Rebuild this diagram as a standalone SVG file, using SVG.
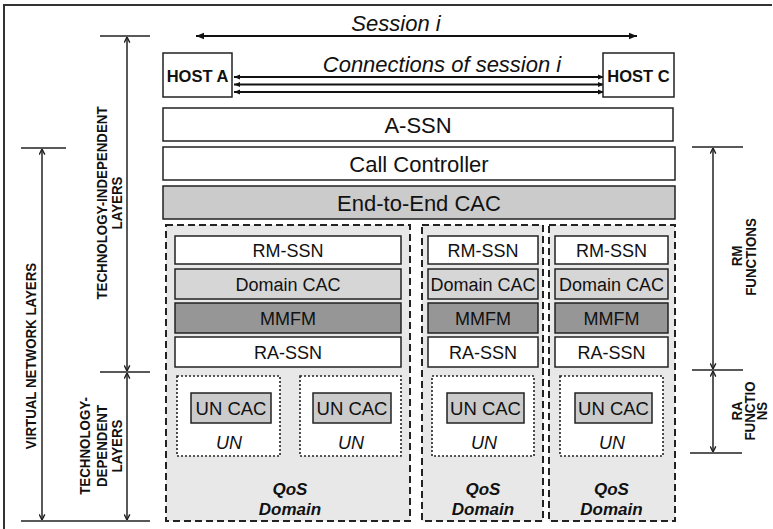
<svg xmlns="http://www.w3.org/2000/svg" width="773" height="529" viewBox="0 0 773 529">
<defs>
<marker id="fa" viewBox="0 0 10 10" refX="10" refY="5" markerWidth="9" markerHeight="8" orient="auto-start-reverse" markerUnits="userSpaceOnUse"><path d="M0,1 L10,5 L0,9 z" fill="#111"/></marker>
<marker id="fs" viewBox="0 0 10 10" refX="10" refY="5" markerWidth="6" markerHeight="6" orient="auto-start-reverse" markerUnits="userSpaceOnUse"><path d="M0,1 L10,5 L0,9 z" fill="#111"/></marker>
<marker id="oa" viewBox="0 0 10 10" refX="10" refY="5" markerWidth="7" markerHeight="7" orient="auto-start-reverse" markerUnits="userSpaceOnUse"><path d="M2,1 L10,5 L2,9" fill="none" stroke="#222" stroke-width="2"/></marker>
</defs>
<style>
text{font-family:"Liberation Sans",Arial,Helvetica,sans-serif;fill:#111;text-anchor:middle}
.box{stroke:#222;stroke-width:1.5}
.w{fill:#fff}
.e2e{fill:#cbcbcb}
.dcac{fill:#d6d6d6}
.mmfm{fill:#969696}
.uncac{fill:#cbcbcb}
.dom{fill:#e8e8e8;stroke:#222;stroke-width:2;stroke-dasharray:7 4}
.un{fill:#fff;stroke:#222;stroke-width:1.6;stroke-dasharray:2 2}
.big{font-size:22px}
.it{font-style:italic}
.host{font-size:16.5px;font-weight:bold}
.mid{font-size:18px}
.uc{font-size:18.5px}
.qos{font-size:17px;font-weight:bold;font-style:italic}
.rot{font-size:15.5px;font-weight:bold}
.ln{stroke:#222;stroke-width:1.5;fill:none}
.cn{stroke:#111;stroke-width:2;fill:none}
.tick{stroke:#222;stroke-width:1.5}
</style>
<rect width="773" height="529" fill="#fff"/>
<path d="M4,529 V5 H772" fill="none" stroke="#333" stroke-width="2"/>

<g id="connectors">
  <line x1="196" y1="36" x2="637" y2="36" class="cn" marker-start="url(#fa)" marker-end="url(#fa)"/>
  <line x1="234" y1="77" x2="604" y2="77" class="cn" marker-start="url(#fs)" marker-end="url(#fs)"/>
  <line x1="234" y1="84.5" x2="604" y2="84.5" class="cn" marker-start="url(#fs)" marker-end="url(#fs)"/>
  <line x1="234" y1="92" x2="604" y2="92" class="cn" marker-start="url(#fs)" marker-end="url(#fs)"/>
  <!-- left brackets -->
  <line x1="100" y1="36" x2="150" y2="36" class="tick"/>
  <line x1="100" y1="372" x2="150" y2="372" class="tick"/>
  <line x1="21" y1="148" x2="66" y2="148" class="tick"/>
  <line x1="21" y1="521" x2="150" y2="521" class="tick"/>
  <line x1="127" y1="37" x2="127" y2="371" class="ln" marker-start="url(#oa)" marker-end="url(#oa)"/>
  <line x1="127" y1="373" x2="127" y2="520" class="ln" marker-start="url(#oa)" marker-end="url(#oa)"/>
  <line x1="42" y1="149" x2="42" y2="520" class="ln" marker-start="url(#oa)" marker-end="url(#oa)"/>
  <!-- right brackets -->
  <line x1="692" y1="147" x2="743" y2="147" class="tick"/>
  <line x1="692" y1="370" x2="743" y2="370" class="tick"/>
  <line x1="690" y1="453" x2="742" y2="453" class="tick"/>
  <line x1="713" y1="148" x2="713" y2="369" class="ln" marker-start="url(#oa)" marker-end="url(#oa)"/>
  <line x1="713" y1="371" x2="713" y2="452" class="ln" marker-start="url(#oa)" marker-end="url(#oa)"/>
</g>

<g id="labels">
  <text x="396" y="31" class="big it">Session i</text>
  <text x="442" y="72" class="big it">Connections of session i</text>
  <text class="rot" transform="translate(36,356) rotate(-90) scale(0.86,1)">VIRTUAL NETWORK LAYERS</text>
  <text class="rot" transform="translate(107,203) rotate(-90) scale(0.86,1)">TECHNOLOGY-INDEPENDENT</text>
  <text class="rot" transform="translate(122,203) rotate(-90) scale(0.86,1)">LAYERS</text>
  <text class="rot" transform="translate(90,446) rotate(-90) scale(0.86,1)">TECHNOLOGY-</text>
  <text class="rot" transform="translate(107,446) rotate(-90) scale(0.86,1)">DEPENDENT</text>
  <text class="rot" transform="translate(122,446) rotate(-90) scale(0.86,1)">LAYERS</text>
  <text class="rot" transform="translate(742,256) rotate(-90) scale(0.86,1)">RM</text>
  <text class="rot" transform="translate(756,257) rotate(-90) scale(0.86,1)">FUNCTIONS</text>
  <text class="rot" transform="translate(742,411) rotate(-90) scale(0.86,1)">RA</text>
  <text class="rot" transform="translate(755,411) rotate(-90) scale(0.86,1)">FUNCTIO</text>
  <text class="rot" transform="translate(767,411) rotate(-90) scale(0.86,1)">NS</text>
</g>

<g id="host-a"><rect x="163" y="53" width="69" height="44" class="box w"/><text x="197.5" y="82" class="host">HOST A</text></g>
<g id="host-c"><rect x="603" y="53" width="71" height="44" class="box w"/><text x="638.5" y="82" class="host">HOST C</text></g>
<g id="a-ssn"><rect x="163" y="108" width="510" height="33" class="box w"/><text x="418" y="133" class="big">A-SSN</text></g>
<g id="call-controller"><rect x="163" y="147" width="512" height="33" class="box w"/><text x="419" y="172" class="big">Call Controller</text></g>
<g id="e2e-cac"><rect x="163" y="186" width="512" height="33" class="box e2e"/><text x="419" y="211" class="big">End-to-End CAC</text></g>

<g id="qos-domain-1">
  <rect x="166" y="225" width="244" height="296" class="dom"/>
  <rect x="175" y="236" width="226" height="28" class="box w"/><text x="288" y="256.5" class="mid">RM-SSN</text>
  <rect x="175" y="269" width="226" height="30" class="box dcac"/><text x="288" y="290.5" class="mid">Domain CAC</text>
  <rect x="175" y="303" width="226" height="30" class="box mmfm"/><text x="288" y="324.5" class="mid">MMFM</text>
  <rect x="175" y="337" width="226" height="30" class="box w"/><text x="288" y="358.5" class="mid">RA-SSN</text>
  <g id="un-1a">
    <rect x="177" y="376" width="103" height="80" class="un"/>
    <rect x="191" y="393" width="80" height="30" class="box uncac"/><text x="231" y="415" class="uc">UN CAC</text>
    <text x="229" y="449" class="mid it">UN</text>
  </g>
  <g id="un-1b">
    <rect x="300" y="376" width="101" height="80" class="un"/>
    <rect x="313" y="393" width="78" height="30" class="box uncac"/><text x="352" y="415" class="uc">UN CAC</text>
    <text x="351" y="449" class="mid it">UN</text>
  </g>
  <text x="290" y="495" class="qos">QoS</text>
  <text x="290" y="515" class="qos">Domain</text>
</g>

<g id="qos-domain-2">
  <rect x="422" y="225" width="121" height="296" class="dom"/>
  <rect x="428" y="236" width="110" height="28" class="box w"/><text x="483" y="256.5" class="mid">RM-SSN</text>
  <rect x="428" y="269" width="110" height="30" class="box dcac"/><text x="483" y="290.5" class="mid">Domain CAC</text>
  <rect x="428" y="303" width="110" height="30" class="box mmfm"/><text x="483" y="324.5" class="mid">MMFM</text>
  <rect x="428" y="337" width="110" height="30" class="box w"/><text x="483" y="358.5" class="mid">RA-SSN</text>
  <g id="un-2">
    <rect x="432" y="376" width="102" height="80" class="un"/>
    <rect x="447" y="393" width="77" height="30" class="box uncac"/><text x="485.5" y="415" class="uc">UN CAC</text>
    <text x="484" y="449" class="mid it">UN</text>
  </g>
  <text x="483" y="495" class="qos">QoS</text>
  <text x="483" y="515" class="qos">Domain</text>
</g>

<g id="qos-domain-3">
  <rect x="549" y="225" width="126" height="296" class="dom"/>
  <rect x="555" y="236" width="113" height="28" class="box w"/><text x="611.5" y="256.5" class="mid">RM-SSN</text>
  <rect x="555" y="269" width="113" height="30" class="box dcac"/><text x="611.5" y="290.5" class="mid">Domain CAC</text>
  <rect x="555" y="303" width="113" height="30" class="box mmfm"/><text x="611.5" y="324.5" class="mid">MMFM</text>
  <rect x="555" y="337" width="113" height="30" class="box w"/><text x="611.5" y="358.5" class="mid">RA-SSN</text>
  <g id="un-3">
    <rect x="560" y="376" width="103" height="80" class="un"/>
    <rect x="575" y="393" width="77" height="30" class="box uncac"/><text x="613.5" y="415" class="uc">UN CAC</text>
    <text x="612" y="449" class="mid it">UN</text>
  </g>
  <text x="611.5" y="495" class="qos">QoS</text>
  <text x="611.5" y="515" class="qos">Domain</text>
</g>
</svg>
